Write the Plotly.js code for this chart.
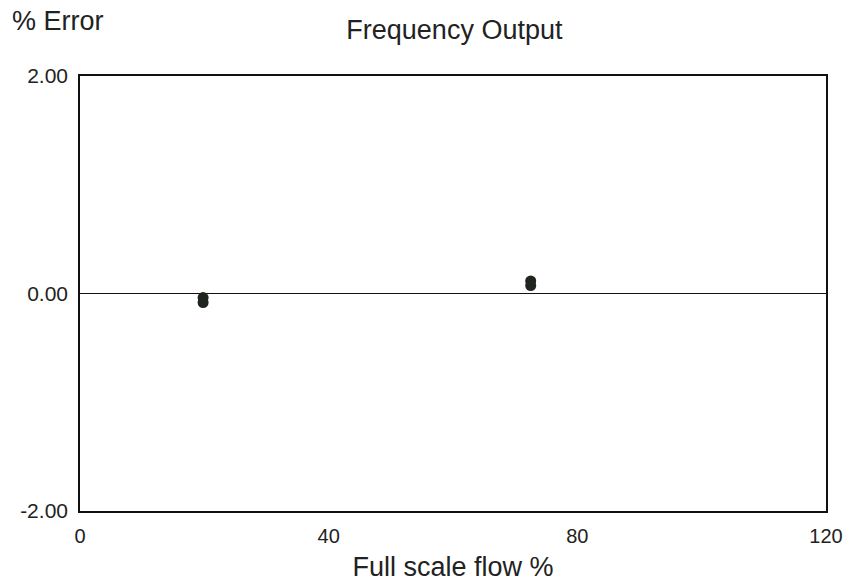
<!DOCTYPE html>
<html>
<head>
<meta charset="utf-8">
<script src="https://cdn.plot.ly/plotly-3.0.1.min.js"></script>
<style>html,body{margin:0;padding:0;background:#fff;}#chart{width:843px;height:582px;}</style>
</head>
<body>
<div id="chart"></div>
<script>
// Data
const flowPercent = [19.8, 19.8, 72.5, 72.5];
const errorPercent = [-0.037, -0.083, 0.115, 0.073];
const xTickValues = [0, 40, 80, 120];
const xTickLabels = ["0", "40", "80", "120"];
const yTickValues = [-2, 0, 2];
const yTickLabels = ["-2.00", "0.00", "2.00"];

const trace = {
  x: flowPercent,
  y: errorPercent,
  mode: "markers",
  type: "scatter",
  marker: {size: 11, color: "#1f2620"},
  hoverinfo: "x+y"
};

const layout = {
  width: 843,
  height: 582,
  margin: {l: 80, r: 17, t: 76, b: 71},
  paper_bgcolor: "#ffffff",
  plot_bgcolor: "#ffffff",
  showlegend: false,
  font: {family: "Liberation Sans, Arial, sans-serif", color: "#222222", size: 20},
  title: {
    text: "Frequency Output",
    font: {size: 27, color: "#222222"},
    x: 0.539, xanchor: "center",
    y: 0.95, yanchor: "middle", yref: "container"
  },
  xaxis: {
    range: [0, 120],
    tickvals: xTickValues,
    ticktext: xTickLabels,
    showgrid: false,
    zeroline: false,
    showline: true,
    linecolor: "#111111",
    linewidth: 1.8,
    mirror: true,
    ticks: "",
    ticklabelstandoff: 6,
    tickfont: {size: 20},
    title: {text: "Full scale flow %", font: {size: 27}, standoff: 14}
  },
  yaxis: {
    range: [-2, 2],
    tickvals: yTickValues,
    ticktext: yTickLabels,
    showgrid: false,
    zeroline: true,
    zerolinecolor: "#111111",
    zerolinewidth: 1.5,
    showline: true,
    linecolor: "#111111",
    linewidth: 1.8,
    mirror: true,
    ticks: "",
    ticklabelstandoff: 6,
    tickfont: {size: 21}
  },
  annotations: [{
    text: "% Error",
    xref: "paper", yref: "paper",
    x: -0.094, xanchor: "left",
    y: 1.126, yanchor: "middle",
    showarrow: false,
    font: {size: 27, color: "#222222"}
  }]
};

Plotly.newPlot("chart", [trace], layout, {displayModeBar: false, staticPlot: true});
</script>
</body>
</html>
